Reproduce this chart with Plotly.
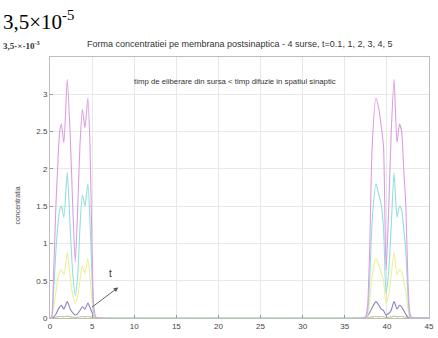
import plotly.graph_objects as go

# ---- data (left group and right group) ----
x_left = [0.0, 0.2, 0.4, 0.7, 0.9, 1.15, 1.35, 1.65, 2.05, 2.4, 2.7, 3.0, 3.3, 3.55, 3.85, 4.15, 4.5, 4.75, 5.0, 5.2, 5.45, 5.8]
x_right = [37.1, 37.45, 37.7, 37.95, 38.25, 38.7, 39.05, 39.35, 39.6, 39.9, 40.2, 40.5, 40.85, 41.2, 41.5, 41.75, 42.0, 42.25, 42.5, 42.75, 43.0, 43.3]
x_ends = [45.0]

mag_left = [0.0, 0.02, 0.5, 1.5, 2.0, 2.5, 2.6, 2.35, 3.2, 2.45, 1.5, 0.75, 1.5, 2.3, 2.8, 2.55, 2.95, 2.3, 0.9, 0.15, 0.01, 0.0]
mag_right = [0.0, 0.01, 0.15, 0.9, 2.3, 2.95, 2.8, 2.55, 2.3, 0.64, 1.4, 2.45, 3.2, 2.35, 2.6, 2.5, 2.0, 1.5, 0.5, 0.05, 0.0, 0.0]

cya_left = [0.0, 0.01, 0.3, 0.9, 1.2, 1.45, 1.5, 1.35, 1.95, 1.2, 0.6, 0.3, 0.6, 1.2, 1.65, 1.5, 1.8, 1.3, 0.5, 0.08, 0.0, 0.0]
cya_right = [0.0, 0.0, 0.08, 0.5, 1.3, 1.8, 1.65, 1.5, 1.2, 0.33, 0.6, 1.2, 1.95, 1.35, 1.5, 1.45, 1.2, 0.9, 0.3, 0.01, 0.0, 0.0]

yel_left = [0.0, 0.0, 0.12, 0.35, 0.5, 0.62, 0.65, 0.58, 0.88, 0.55, 0.3, 0.2, 0.3, 0.5, 0.7, 0.6, 0.8, 0.55, 0.22, 0.04, 0.0, 0.0]
yel_right = [0.0, 0.0, 0.04, 0.22, 0.55, 0.8, 0.7, 0.6, 0.5, 0.2, 0.3, 0.55, 0.88, 0.58, 0.65, 0.62, 0.5, 0.35, 0.12, 0.0, 0.0, 0.0]

pur_left = [0.0, 0.0, 0.01, 0.05, 0.1, 0.15, 0.17, 0.12, 0.22, 0.12, 0.07, 0.04, 0.06, 0.1, 0.15, 0.12, 0.2, 0.14, 0.07, 0.03, 0.01, 0.0]
pur_right = [0.0, 0.01, 0.03, 0.07, 0.14, 0.22, 0.17, 0.12, 0.1, 0.04, 0.06, 0.1, 0.22, 0.12, 0.17, 0.15, 0.1, 0.05, 0.01, 0.0, 0.0, 0.0]

olv_left = [0.0, 0.0, 0.005, 0.01, 0.015, 0.02, 0.02, 0.015, 0.025, 0.015, 0.01, 0.008, 0.01, 0.015, 0.02, 0.015, 0.02, 0.015, 0.01, 0.005, 0.0, 0.0]
olv_right = [0.0, 0.0, 0.005, 0.01, 0.015, 0.02, 0.015, 0.02, 0.015, 0.008, 0.01, 0.015, 0.025, 0.015, 0.02, 0.02, 0.015, 0.01, 0.005, 0.0, 0.0, 0.0]
y_ends = [0.0]

series_names = ["t=0.1", "t=1", "t=2", "t=3", "t=5"]
series_colors = ["#c8c496", "#8a80c4", "#eeee96", "#8fe0dc", "#dc9ee0"]
series_left = [olv_left, pur_left, yel_left, cya_left, mag_left]
series_right = [olv_right, pur_right, yel_right, cya_right, mag_right]

x_ticks = [0, 5, 10, 15, 20, 25, 30, 35, 40, 45]
y_ticks = [0, 0.5, 1, 1.5, 2, 2.5, 3]
y_tick_text = ["0", "0.5", "1", "1.5", "2", "2.5", "3"]

fig = go.Figure()
xs = x_left + x_right + x_ends
for name, color, yl, yr in zip(series_names, series_colors, series_left, series_right):
    fig.add_trace(go.Scatter(
        x=xs, y=yl + yr + y_ends, mode="lines", name=name,
        line=dict(color=color, width=1.1, shape="spline", smoothing=0.6),
        hoverinfo="skip"))

fig.update_layout(
    width=438, height=338,
    margin=dict(l=50, r=9, t=57, b=20, autoexpand=False),
    paper_bgcolor="white", plot_bgcolor="white",
    showlegend=False,
    font=dict(family="Liberation Sans, Arial", size=8, color="#444"),
)
fig.update_xaxes(range=[0, 45], tickvals=x_ticks, showgrid=True, gridcolor="#e8e8e8",
                 gridwidth=1, zeroline=False, showline=True, linecolor="#bdbdbd", mirror=True,
                 ticks="inside", ticklen=3, tickcolor="#999", tickfont=dict(size=8, color="#444"))
fig.update_yaxes(range=[0, 3.5], tickvals=y_ticks, ticktext=y_tick_text, showgrid=True,
                 gridcolor="#e8e8e8", gridwidth=1, zeroline=False, showline=True,
                 linecolor="#bdbdbd", mirror=True, ticks="inside", ticklen=3, tickcolor="#999",
                 tickfont=dict(size=8, color="#444"))

ann = []
ann.append(dict(xref="paper", yref="paper", x=-0.128, y=1.14, xanchor="left", yanchor="middle",
                text="3,5×10<sup>-5</sup>", showarrow=False,
                font=dict(family="Liberation Serif, Times New Roman", size=21, color="black")))
ann.append(dict(xref="paper", yref="paper", x=-0.13, y=1.045, xanchor="left", yanchor="middle",
                text="<b>3,5·×·10<sup>-3</sup></b>", showarrow=False,
                font=dict(family="Liberation Serif, Times New Roman", size=9, color="#333")))
ann.append(dict(xref="paper", yref="paper", x=0.5, y=1.05, xanchor="center", yanchor="middle",
                text="Forma concentratiei pe membrana postsinaptica - 4 surse, t=0.1, 1, 2, 3, 4, 5",
                showarrow=False, font=dict(family="Liberation Sans, Arial", size=9, color="#333")))
ann.append(dict(xref="paper", yref="paper", x=0.488, y=0.905, xanchor="center", yanchor="middle",
                text="timp de eliberare din sursa &lt; timp difuzie in spatiul sinaptic",
                showarrow=False, font=dict(family="Liberation Sans, Arial", size=7.8, color="#333")))
ann.append(dict(xref="paper", yref="paper", x=-0.085, y=0.43, xanchor="center", yanchor="middle",
                text="concentratia", textangle=-90, showarrow=False,
                font=dict(family="Liberation Sans, Arial", size=7, color="#444")))
ann.append(dict(x=8.1, y=0.41, ax=4.8, ay=0.13, xref="x", yref="y", axref="x", ayref="y",
                text="", showarrow=True, arrowhead=2, arrowsize=1, arrowwidth=0.9,
                arrowcolor="#555"))
ann.append(dict(x=7.2, y=0.6, xref="x", yref="y", text="t", showarrow=False,
                font=dict(family="Liberation Sans, Arial", size=10, color="#333")))
fig.update_layout(annotations=ann)

fig.write_html("out.html", config={"displayModeBar": False},
               post_script="document.body.style.margin='0';")
